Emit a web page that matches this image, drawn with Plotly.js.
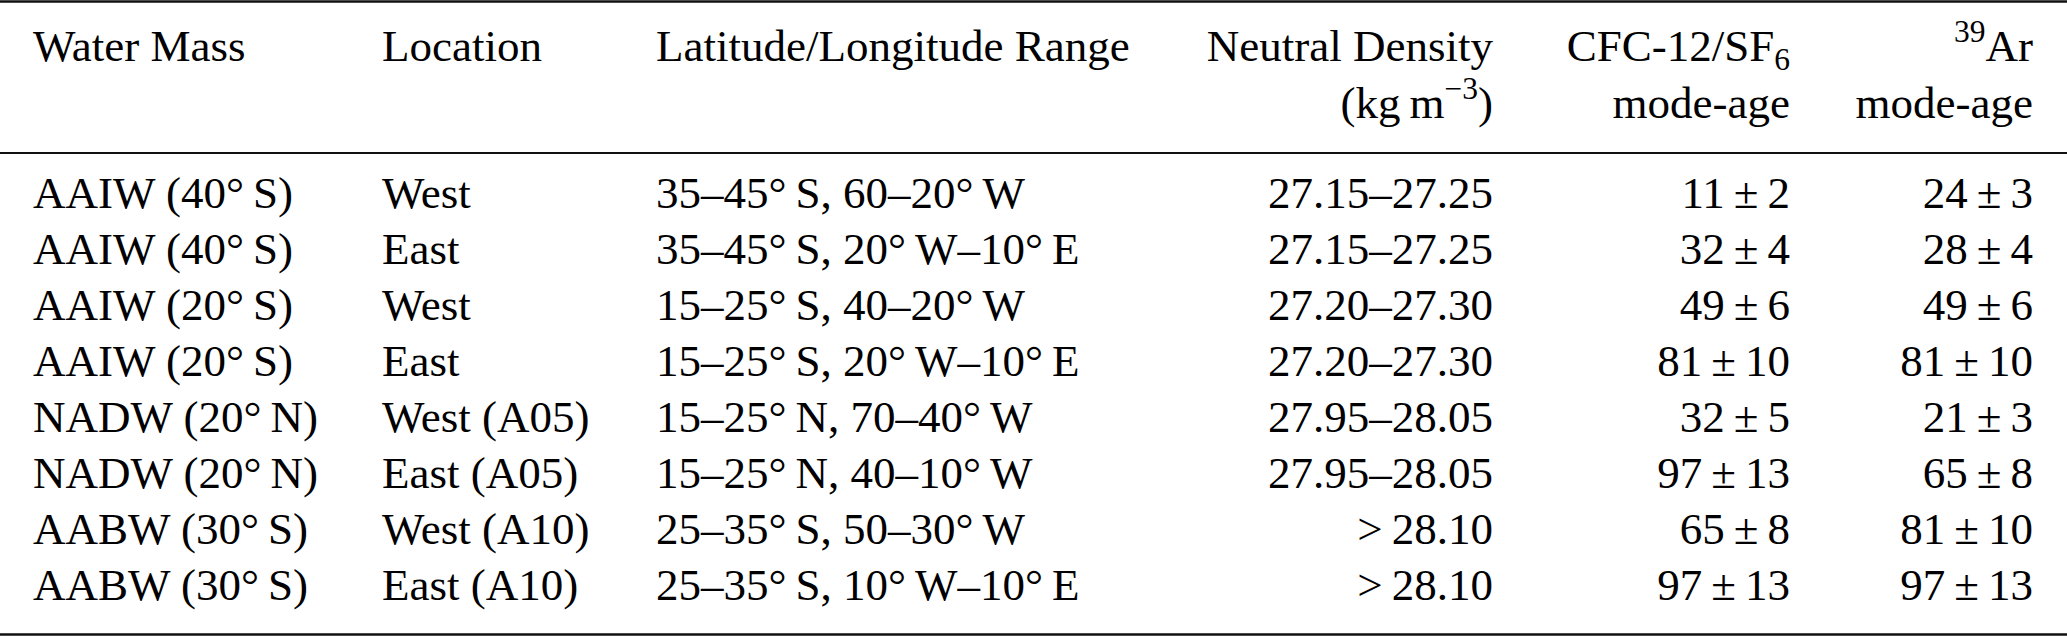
<!DOCTYPE html>
<html>
<head>
<meta charset="utf-8">
<script src="https://cdn.plot.ly/plotly-3.0.1.min.js"></script>
<style>
  html, body { margin: 0; padding: 0; background: #ffffff; }
  #chart { width: 2067px; height: 637px; }
</style>
</head>
<body>
<div id="chart"></div>
<script>
// ---- Table content ----
var headerLine1 = ['Water Mass', 'Location', 'Latitude/Longitude Range', 'Neutral Density', 'CFC-12/SF<sub>6</sub>', '<sup>39</sup>Ar'];
var headerLine2 = ['', '', '', '(kg\u2009m<sup>\u22123</sup>)', 'mode-age', 'mode-age'];

var waterMass = ['AAIW (40°\u2009S)', 'AAIW (40°\u2009S)', 'AAIW (20°\u2009S)', 'AAIW (20°\u2009S)',
                 'NADW (20°\u2009N)', 'NADW (20°\u2009N)', 'AABW (30°\u2009S)', 'AABW (30°\u2009S)'];
var siteLocation = ['West', 'East', 'West', 'East', 'West (A05)', 'East (A05)', 'West (A10)', 'East (A10)'];
var latLonRange = ['35–45°\u2009S, 60–20°\u2009W', '35–45°\u2009S, 20°\u2009W–10°\u2009E',
                   '15–25°\u2009S, 40–20°\u2009W', '15–25°\u2009S, 20°\u2009W–10°\u2009E',
                   '15–25°\u2009N, 70–40°\u2009W', '15–25°\u2009N, 40–10°\u2009W',
                   '25–35°\u2009S, 50–30°\u2009W', '25–35°\u2009S, 10°\u2009W–10°\u2009E'];
var neutralDensity = ['27.15–27.25', '27.15–27.25', '27.20–27.30', '27.20–27.30',
                      '27.95–28.05', '27.95–28.05', '&gt;\u200928.10', '&gt;\u200928.10'];
var cfcModeAge = [11, 32, 49, 81, 32, 97, 65, 97];
var cfcModeErr = [2, 4, 6, 10, 5, 13, 8, 13];
var arModeAge = [24, 28, 49, 81, 21, 65, 81, 97];
var arModeErr = [3, 4, 6, 10, 3, 8, 10, 13];

// ---- Layout constants ----
var W = 2067, H = 637;
var FONT = 45;
var colX = [33, 382, 656, 1493, 1790, 2033];
var colAlign = ['left', 'left', 'left', 'right', 'right', 'right'];
var header1Base = 61, header2Base = 118;
var rowBase0 = 208, rowPitch = 56;

function pm(v, e) { return v + '\u2009±\u2009' + e; }
function yFromBaseline(b) { return b - 0.25 * FONT; }

var columns = [
  waterMass,
  siteLocation,
  latLonRange,
  neutralDensity,
  cfcModeAge.map(function (v, i) { return pm(v, cfcModeErr[i]); }),
  arModeAge.map(function (v, i) { return pm(v, arModeErr[i]); })
];

var traces = [];
function addText(x, ys, texts, align) {
  traces.push({
    type: 'scatter',
    mode: 'text',
    x: ys.map(function () { return x; }),
    y: ys,
    text: texts,
    textposition: align === 'left' ? 'middle right' : 'middle left',
    textfont: { family: 'Liberation Serif, Times New Roman, serif', size: FONT, color: '#000000' },
    hoverinfo: 'skip',
    showlegend: false,
    cliponaxis: false
  });
}

// header rows
for (var c = 0; c < 6; c++) {
  addText(colX[c], [yFromBaseline(header1Base)], [headerLine1[c]], colAlign[c]);
  if (headerLine2[c]) addText(colX[c], [yFromBaseline(header2Base)], [headerLine2[c]], colAlign[c]);
}
// body rows
for (var c2 = 0; c2 < 6; c2++) {
  var ys = columns[c2].map(function (_, i) { return yFromBaseline(rowBase0 + rowPitch * i); });
  addText(colX[c2], ys, columns[c2], colAlign[c2]);
}

function rule(y, w) {
  return { type: 'line', xref: 'x', yref: 'y', x0: 0, x1: W, y0: y, y1: y,
           line: { color: '#111111', width: w } };
}

var layout = {
  width: W, height: H,
  margin: { l: 0, r: 0, t: 0, b: 0, pad: 0 },
  paper_bgcolor: '#ffffff', plot_bgcolor: '#ffffff',
  showlegend: false,
  xaxis: { range: [0, W], visible: false, fixedrange: true },
  yaxis: { range: [H, 0], visible: false, fixedrange: true },
  shapes: [rule(1.5, 2.6), rule(153, 2), rule(634.5, 2.6)]
};

Plotly.newPlot('chart', traces, layout, { staticPlot: true, displayModeBar: false });
</script>
</body>
</html>
